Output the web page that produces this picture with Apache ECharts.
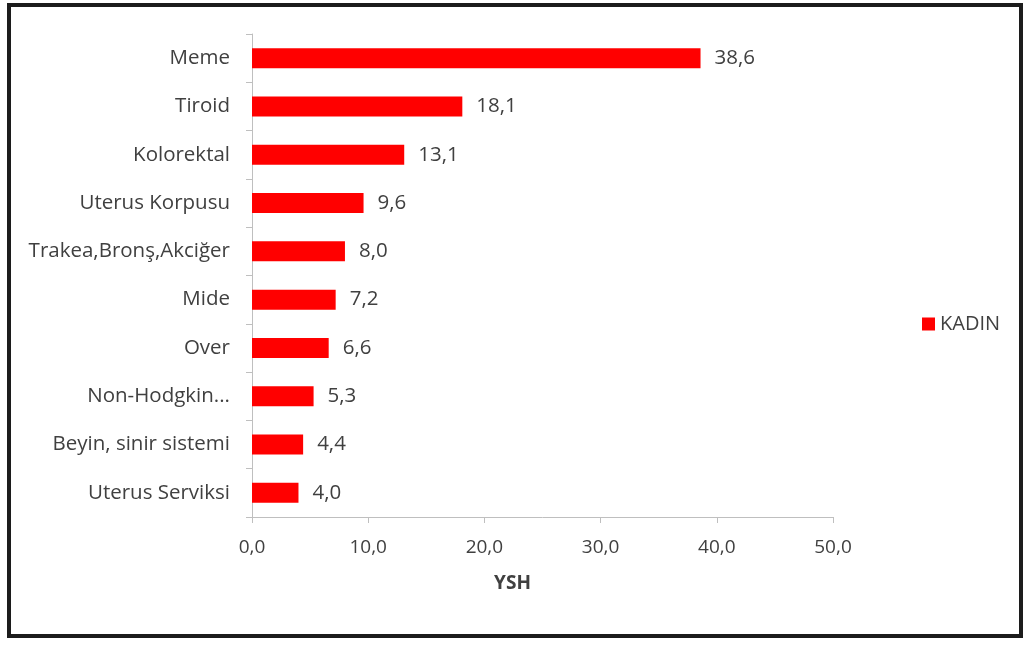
<!DOCTYPE html>
<html><head><meta charset="utf-8">
<script src="https://cdn.jsdelivr.net/npm/echarts@6/dist/echarts.min.js"></script>
<style>html,body{margin:0;padding:0;background:#fff}#c{width:1027px;height:646px}</style>
</head><body><div id="c"></div>
<script>
const categories = ['Meme','Tiroid','Kolorektal','Uterus Korpusu','Trakea,Bronş,Akciğer','Mide','Over','Non-Hodgkin...','Beyin, sinir sistemi','Uterus Serviksi'];
const kadin = [38.6, 18.1, 13.1, 9.6, 8.0, 7.2, 6.6, 5.3, 4.4, 4.0];
const seriesName = 'KADIN';
const axisName = 'YSH';
const fmt = v => Number(v).toFixed(1).replace('.', ',');
const font = '"Open Sans", "Liberation Sans", sans-serif';
const chart = echarts.init(document.getElementById('c'), null, {renderer:'canvas'});
chart.setOption({
  animation:false,
  backgroundColor:'#fff',
  textStyle:{fontFamily:font},
  graphic:[{type:'rect', shape:{x:9, y:5, width:1012, height:631}, style:{fill:'none', stroke:'#1c1c1c', lineWidth:4}, z:100}],
  legend:{data:[seriesName], left:917, top:309, icon:'rect', itemWidth:13, itemHeight:13, itemGap:4,
    textStyle:{fontSize:20, color:'#404040', fontFamily:font}},
  grid:{left:252, right:194, top:34, bottom:129, containLabel:false},
  xAxis:{type:'value', min:0, max:50, interval:10,
    axisLine:{show:true, lineStyle:{color:'#bfbfbf'}},
    axisTick:{show:true, length:6, lineStyle:{color:'#bfbfbf'}},
    splitLine:{show:false},
    axisLabel:{formatter:fmt, fontSize:19, color:'#404040', margin:21, fontFamily:font},
    name:axisName, nameLocation:'middle', nameGap:57,
    nameTextStyle:{fontSize:19, color:'#404040', fontWeight:'bold', padding:[0,60,0,0], fontFamily:font}},
  yAxis:{type:'category', data:categories, inverse:true,
    axisLine:{show:true, lineStyle:{color:'#bfbfbf'}},
    axisTick:{show:true, length:6, lineStyle:{color:'#bfbfbf'}},
    axisLabel:{fontSize:20.5, color:'#404040', margin:22, fontFamily:font}},
  series:[{name:seriesName, type:'bar', data:kadin, barWidth:20,
    itemStyle:{color:'#ff0000'},
    label:{show:true, position:'right', distance:14, formatter:p=>fmt(p.value), fontSize:20.5, color:'#404040', fontFamily:font}}]
});
</script></body></html>
